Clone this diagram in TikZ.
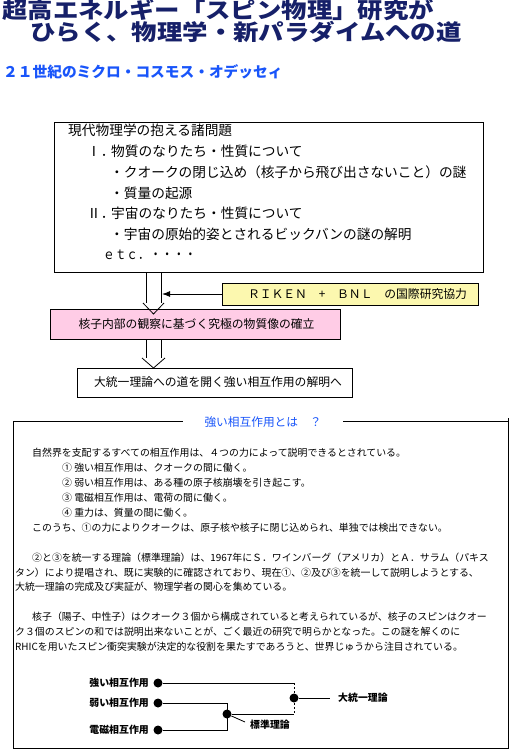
\documentclass[tikz,border=0pt]{standalone}
\usepackage{fontspec}
\usepackage{graphicx}
\setmainfont{Noto Sans CJK JP}
\usetikzlibrary{arrows.meta,calc}
\definecolor{navy}{RGB}{22,32,105}
\definecolor{subblue}{RGB}{25,85,250}
\definecolor{pinkfill}{RGB}{255,204,230}
\definecolor{yelfill}{RGB}{252,248,175}
\begin{document}
\begin{tikzpicture}[x=1pt,y=-1pt,
  txt/.style={inner sep=0pt, text height=0.88em, text depth=0.12em, anchor=west},
  big/.style={txt, font=\fontsize{13.7}{16}\selectfont},
  mid/.style={font=\fontsize{11.8}{14}\selectfont},
  sml/.style={txt, font=\fontsize{9.9}{12}\selectfont},
  ttl/.style={txt, font=\fontsize{22}{24}\selectfont\bfseries, text=navy},
  box/.style={draw=black, line width=1pt, inner sep=0pt},
  dot/.style={circle, fill=black, inner sep=0pt, minimum size=9pt},
  ln/.style={line width=1pt},
]
\useasboundingbox (0,0) rectangle (510,752);

% title
\node[ttl] (t1) at (2,14.8) {\scalebox{1.155}[1]{超高エネルギー「スピン物理」研究が}};
\node[ttl] (t2) at (30,36.5) {\scalebox{1.155}[1]{ひらく、物理学・新パラダイムへの道}};
\node[txt, font=\fontsize{14.7}{16}\selectfont\bfseries, text=subblue] (sub) at (3,73.5) {２１世紀のミクロ・コスモス・オデッセィ};

% box 1
\node[box, minimum width=429pt, minimum height=150pt] (b1) at (268.5,197) {};
\node[big] (p0) at (68,132) {現代物理学の抱える諸問題};
\node[big] (p1a) at (87,153) {Ⅰ．};
\node[big] (p1) at (111,153) {物質のなりたち・性質について};
\node[big] (p2) at (110,174) {・クオークの閉じ込め（核子から飛び出さないこと）の謎};
\node[big] (p3) at (110,195) {・質量の起源};
\node[big] (p4a) at (87,215) {Ⅱ．};
\node[big] (p4) at (111,215) {宇宙のなりたち・性質について};
\node[big] (p5) at (110,236) {・宇宙の原始的姿とされるビックバンの謎の解明};
\node[big] (p6) at (103,256) {\scalebox{0.85}[1]{ｅｔｃ．・・・・}};

% RIKEN box
\node[box, fill=yelfill, minimum width=256pt, minimum height=22pt, mid] (rk) at (350,294) {\hspace*{15pt}ＲＩＫＥＮ　+　ＢＮＬ　の国際研究協力};

% pink box
\node[box, fill=pinkfill, minimum width=290pt, minimum height=30pt, mid] (pk) at (195,324) {\hspace*{3pt}核子内部の観察に基づく究極の物質像の確立};

% box 3
\node[box, minimum width=275pt, minimum height=29pt, mid] (b3) at (214.5,382.5) {\hspace*{7pt}大統一理論への道を開く強い相互作用の解明へ};

% hollow arrow 1 (b1 -> pk)
\draw[ln] (146,272) -- (146,303);
\draw[ln] (161,272) -- (161,303);
\draw[line width=0.8pt] (143,303) -- (153.5,314) -- (164,303);
% feedback arrow
\draw[ln, -{Latex[length=8pt,width=6pt]}] (rk.west) -- (162,294);

% hollow arrow 2 (pk -> b3)
\draw[ln] (146,339) -- (146,358);
\draw[ln] (161,339) -- (161,358);
\draw[line width=0.8pt] (142,358) -- (153.5,368) -- (165,358);

% section frame
\node[box, minimum width=495pt, minimum height=327pt] (sec) at (260.5,584.5) {};
\draw[ln] (sec.north east) -- ++(0,-3);
\node[fill=white, inner sep=0pt, minimum width=160pt, font=\fontsize{11.7}{14}\selectfont, text=subblue] (hd) at (263,422) {強い相互作用とは　？};

% section text
\node[sml] (s1) at (32,453) {自然界を支配するすべての相互作用は、４つの力によって説明できるとされている。};
\node[sml] (s2) at (62,467.9) {① 強い相互作用は、クオークの間に働く。};
\node[sml] (s3) at (62,482.8) {② 弱い相互作用は、ある種の原子核崩壊を引き起こす。};
\node[sml] (s4) at (62,497.7) {③ 電磁相互作用は、電荷の間に働く。};
\node[sml] (s5) at (62,512.6) {④ 重力は、質量の間に働く。};
\node[sml] (s6) at (32,527.5) {このうち、①の力によりクオークは、原子核や核子に閉じ込められ、単独では検出できない。};
\node[sml] (s7) at (32,557.3) {②と③を統一する理論（標準理論）は、1967年にＳ．ワインバーグ（アメリカ）とＡ．サラム（パキス};
\node[sml] (s8) at (15,572.2) {タン）により提唱され、既に実験的に確認されており、現在①、②及び③を統一して説明しようとする、};
\node[sml] (s9) at (15,587.1) {大統一理論の完成及び実証が、物理学者の関心を集めている。};
\node[sml] (s10) at (32,616.9) {核子（陽子、中性子）はクオーク３個から構成されていると考えられているが、核子のスピンはクオー};
\node[sml] (s11) at (15,631.8) {ク３個のスピンの和では説明出来ないことが、ごく最近の研究で明らかとなった。この謎を解くのに};
\node[sml] (s12) at (15,646.7) {RHICを用いたスピン衝突実験が決定的な役割を果たすであろうと、世界じゅうから注目されている。};

% diagram
\node[sml, anchor=east, font=\fontsize{9.9}{12}\selectfont\bfseries] (l1) at (149,683) {強い相互作用};
\node[dot] (d1) at (158,683) {};
\node[sml, anchor=east, font=\fontsize{9.9}{12}\selectfont\bfseries] (l2) at (149,703) {弱い相互作用};
\node[dot] (d2) at (158,703) {};
\node[sml, anchor=east, font=\fontsize{9.9}{12}\selectfont\bfseries] (l3) at (149,730) {電磁相互作用};
\node[dot] (d3) at (158,730) {};
\node[dot] (ds) at (227,714) {};
\node[dot] (dg) at (294,698) {};
\node[sml, font=\fontsize{9.9}{12}\selectfont\bfseries] (lg) at (338,698) {大統一理論};
\node[sml, font=\fontsize{9.9}{12}\selectfont\bfseries] (ls) at (250,725) {標準理論};
\coordinate (c1) at (294,683);
\coordinate (c2) at (294,714);
\coordinate (c3) at (227,703);
\coordinate (c4) at (227,730);
\coordinate (c5) at (330,698);
\coordinate (c6) at (245,722);
\draw[ln] (d1) -- (c1);
\draw[ln, dash pattern=on 2pt off 2pt] (c1) -- (c2);
\draw[ln] (d2) -- (c3) -- (c4) -- (d3);
\draw[ln] (ds) -- (c2);
\draw[ln] (dg) -- (c5);
\draw[line width=0.8pt] (ds) -- (c6);
\end{tikzpicture}
\end{document}
